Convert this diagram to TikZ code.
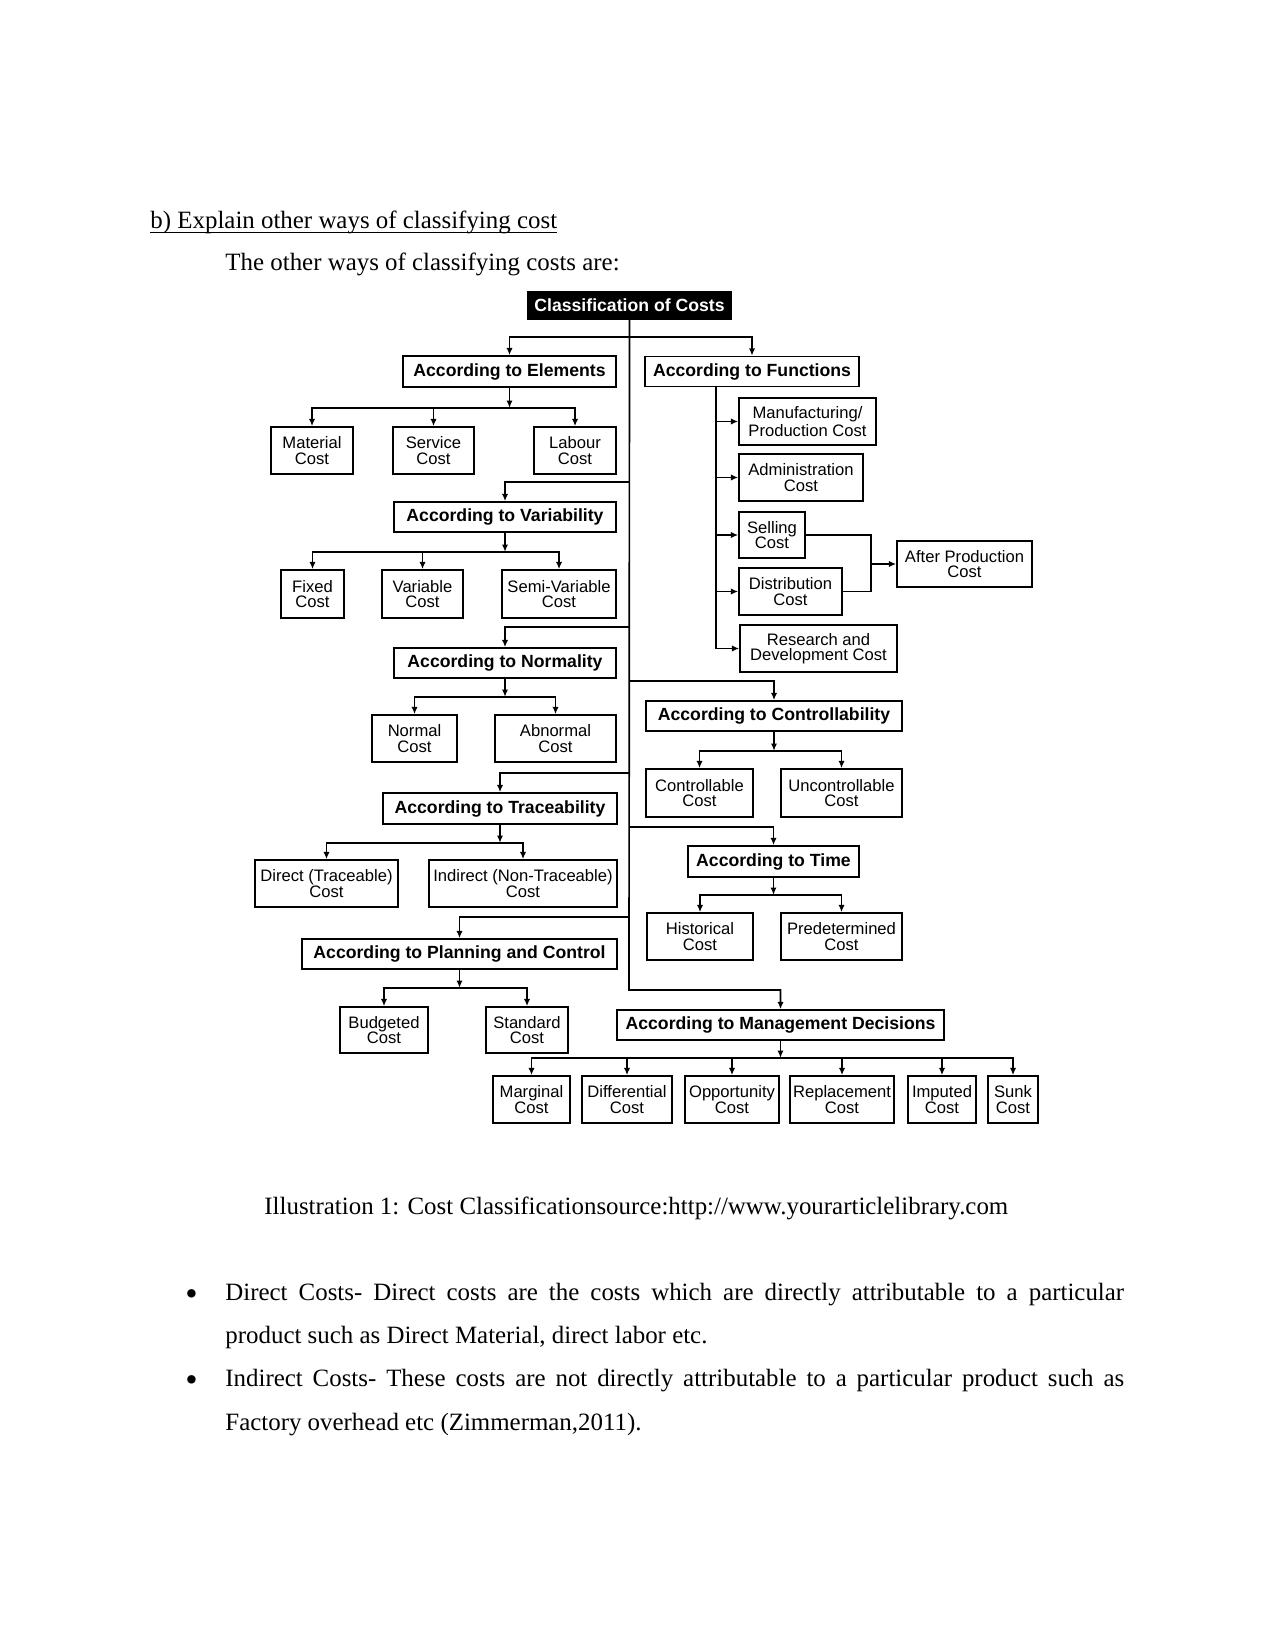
\documentclass[tikz,border=0pt]{standalone}
\usepackage{fontspec}
\setmainfont{Liberation Serif}
\newfontfamily\chartfont{Liberation Sans}
\usetikzlibrary{arrows.meta}
\def\pxu{0.4818pt}
\newcommand{\ulbox}[1]{\setbox0\hbox{#1}\rlap{\rule[-2pt]{\wd0}{0.6pt}}\box0}
\tikzset{
  box/.style={draw, line width=0.8pt, inner sep=0pt, align=center, font=\chartfont\fontsize{8}{7.4}\selectfont},
  head/.style={box, font=\chartfont\bfseries\fontsize{8.5}{9}\selectfont},
  sz/.style 2 args={minimum width={#1*\pxu}, minimum height={#2*\pxu}},
  ln/.style={line width=0.8pt},
  arr/.style={ln, -{Latex[length=3.5pt,width=3pt]}},
  txt/.style={anchor=base west, inner sep=0pt, font=\fontsize{12}{14}\selectfont},
  bul/.style={txt, font=\fontsize{17}{17}\selectfont}
}

\begin{document}
\begin{tikzpicture}[x=\pxu, y=-\pxu]
\useasboundingbox (0,0) rectangle (1275,1650);
% page text
\node[txt] (hd) at (150,229) {\ulbox{b) Explain other ways of classifying cost}};
\node[txt] (intro) at (225,271) {The other ways of classifying costs are:};
% root
\node[head, fill=black, text=white, sz={203}{27}] (title) at (629.5,305.5) {Classification of Costs};
% left column
\node[head, sz={213}{31}] (elem) at (509.5,371.5) {According to Elements};
\node[box, sz={82}{47}] (mat) at (312,450.5) {Material\\Cost};
\node[box, sz={81}{47}] (serv) at (433.5,450.5) {Service\\Cost};
\node[box, sz={82}{47}] (lab) at (575,450.5) {Labour\\Cost};
\node[head, sz={222}{30}] (var) at (505,517) {According to Variability};
\node[box, sz={63}{48}] (fix) at (312.5,594) {Fixed\\Cost};
\node[box, sz={81}{48}] (vbl) at (422.5,594) {Variable\\Cost};
\node[box, sz={114}{48}] (semi) at (559,594) {Semi-Variable\\Cost};
\node[head, sz={222}{30}] (norm) at (505,663) {According to Normality};
\node[box, sz={85}{47}] (nrm) at (414.5,738.5) {Normal\\Cost};
\node[box, sz={121}{47}] (abn) at (555.5,738.5) {Abnormal\\Cost};
\node[head, sz={234}{31}] (trace) at (500,808.5) {According to Traceability};
\node[box, sz={143}{47}] (dir) at (326.5,883.5) {Direct (Traceable)\\Cost};
\node[box, sz={188}{47}] (ind) at (523,883.5) {Indirect (Non-Traceable)\\Cost};
\node[head, sz={315}{30}] (plan) at (459.5,954) {According to Planning and Control};
\node[box, sz={88}{46}] (bud) at (384,1030) {Budgeted\\Cost};
\node[box, sz={82}{46}] (std) at (527,1030) {Standard\\Cost};
% right column
\node[head, sz={214}{30}] (func) at (752,371.5) {According to Functions};
\node[box, sz={137}{47}] (manu) at (807.5,421.5) {Manufacturing/\\Production Cost};
\node[box, sz={124}{47}] (admin) at (801,477.5) {Administration\\Cost};
\node[box, sz={66}{46}] (sell) at (772,535) {Selling\\Cost};
\node[box, sz={103}{47}] (dist) at (790.5,591.5) {Distribution\\Cost};
\node[box, sz={157}{47}] (rnd) at (818.5,648.5) {Research and\\Development Cost};
\node[box, sz={135}{46}] (aft) at (964.5,564) {After Production\\Cost};
\node[head, sz={256}{30}] (ctrl) at (774,716) {According to Controllability};
\node[box, sz={107}{48}] (con) at (699.5,793) {Controllable\\Cost};
\node[box, sz={121}{48}] (unc) at (841.5,793) {Uncontrollable\\Cost};
\node[head, sz={171}{31}] (time) at (773.5,861.5) {According to Time};
\node[box, sz={106}{47}] (his) at (700,936.5) {Historical\\Cost};
\node[box, sz={121}{47}] (pre) at (841.5,936.5) {Predetermined\\Cost};
\node[head, sz={327}{30}] (mgmt) at (780.5,1025) {According to Management Decisions};
\node[box, sz={77}{47}] (marg) at (531.5,1099.5) {Marginal\\Cost};
\node[box, sz={90}{47}] (diff) at (627,1099.5) {Differential\\Cost};
\node[box, sz={94}{47}] (opp) at (732,1099.5) {Opportunity\\Cost};
\node[box, sz={104}{47}] (rep) at (842,1099.5) {Replacement\\Cost};
\node[box, sz={68}{47}] (imp) at (942,1099.5) {Imputed\\Cost};
\node[box, sz={50}{47}] (sunk) at (1013,1099.5) {Sunk\\Cost};
% trunk and its branches
\coordinate (tend) at (629,990);
\draw[arr] (title.south) -- (tend) -| (mgmt.north);
\foreach \y/\n in {337/elem, 337/func, 482/var, 627/norm, 681/ctrl, 773/trace, 827/time, 917/plan} {
  \coordinate (b-\n) at (629,\y);
  \draw[arr] (b-\n) -| (\n.north);
}
% sub-trees
\foreach \p/\d/\cs in {elem/20/{mat,serv,lab}, var/19/{fix,vbl,semi}, norm/18/{nrm,abn},
    trace/18/{dir,ind}, plan/18/{bud,std}, ctrl/19/{con,unc}, time/17/{his,pre},
    mgmt/17/{marg,diff,opp,rep,imp,sunk}} {
  \path (\p.south) ++(0,\d) coordinate (\p-b);
  \draw[arr] (\p.south) -- (\p-b);
  \foreach \c in \cs
    \draw[arr] (\p-b) -| (\c.north);
}
% functions
\coordinate (f-b) at (716,386);
\foreach \c in {manu,admin,sell,dist,rnd}
  \draw[arr] (f-b) |- (\c.west);
\coordinate (ap-j) at (871,564);
\draw[ln] (sell.east) -| (ap-j) |- (dist.east);
\draw[arr] (ap-j) -- (aft.west);
% caption and bullets
\node[txt] (cap) at (264,1214) {Illustration 1: Cost Classificationsource:http://www.yourarticlelibrary.com};
\node[bul] (dot1) at (185,1305) {\textbullet};
\node[txt] (l1) at (225,1300) {\makebox[433pt][s]{Direct Costs- Direct costs are the costs which are directly attributable to a particular}};
\node[txt] (l2) at (225,1343) {product such as Direct Material, direct labor etc.};
\node[bul] (dot2) at (185,1391) {\textbullet};
\node[txt] (l3) at (225,1386) {\makebox[433pt][s]{Indirect Costs- These costs are not directly attributable to a particular product such as}};
\node[txt] (l4) at (225,1430) {Factory overhead etc (Zimmerman,2011).};
\end{tikzpicture}
\end{document}
